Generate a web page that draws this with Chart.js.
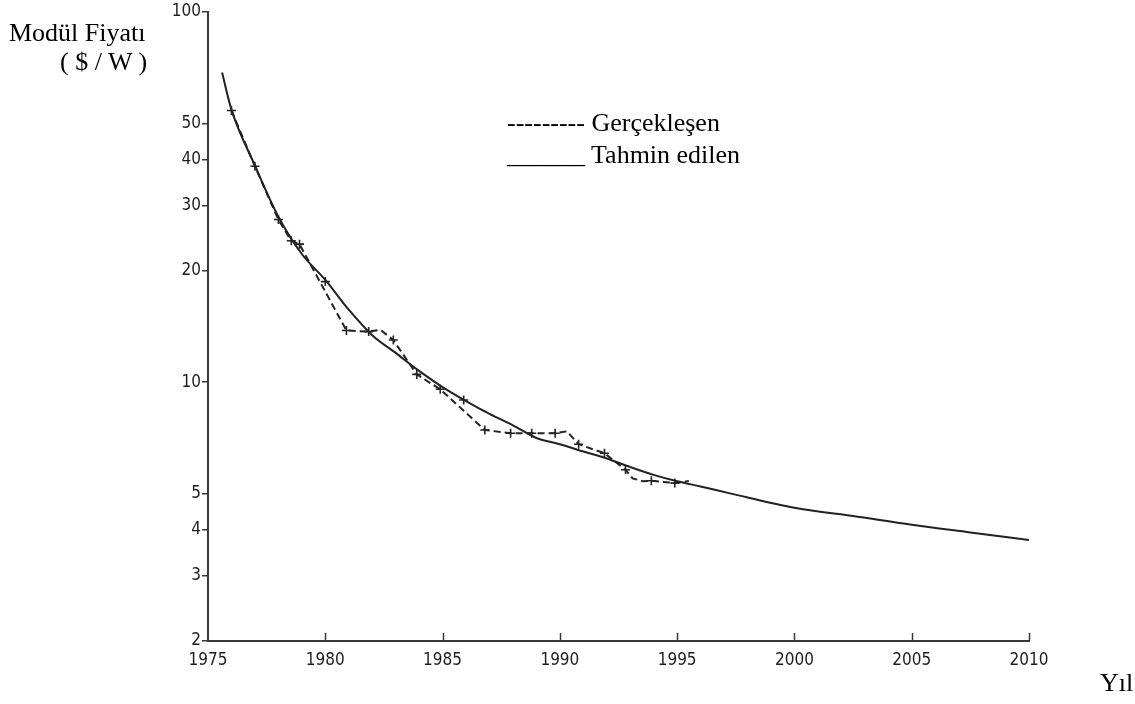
<!DOCTYPE html>
<html>
<head>
<meta charset="utf-8">
<script src="https://cdn.jsdelivr.net/npm/chart.js@4.4.1/dist/chart.umd.min.js"></script>
<style>
  html, body { margin: 0; padding: 0; background: #ffffff; }
  #wrap { position: relative; width: 1135px; height: 704px; overflow: hidden; }
  #c { position: absolute; left: 0; top: 0; }
  .t { position: absolute; font-family: 'Liberation Serif', 'Times New Roman', serif; font-size: 26px;
       line-height: 1; color: #000; white-space: pre; }
</style>
</head>
<body>
<div id="wrap">
  <canvas id="c" width="1135" height="704"></canvas>
  <div class="t" style="left:9px;top:20px">Modül Fiyatı</div>
  <div class="t" style="left:60px;top:49px">( $ / W )</div>
  <div class="t" style="left:507px;top:110px">--------- Gerçekleşen</div>
  <div class="t" style="left:507px;top:142px">______ Tahmin edilen</div>
  <div class="t" style="left:1100px;top:670px">Yıl</div>
</div>
<script>
// Axis ticks
const xTickYears = [1975, 1980, 1985, 1990, 1995, 2000, 2005, 2010];
const yTickValues = [2, 3, 4, 5, 10, 20, 30, 40, 50, 100];

// Realised module prices ($/W), dashed line
const actualYears  = [1976, 1977, 1978, 1978.55, 1978.9, 1980.9, 1981.85, 1982.35, 1982.9,
                      1983.9, 1984.9, 1986.8, 1987.9, 1988.8, 1989.8, 1990.3, 1990.8, 1991.9,
                      1992.8, 1993.1, 1993.55, 1993.9, 1994.9, 1995.5];
const actualPrices = [54.2, 38.3, 27.5, 24.1, 23.6, 13.8, 13.7, 13.85, 13.0,
                      10.5, 9.57, 7.43, 7.28, 7.28, 7.28, 7.37, 6.8, 6.43,
                      5.8, 5.5, 5.4, 5.42, 5.34, 5.41];

// Yearly observations marked with "+"
const markerYears  = [1976, 1977, 1978, 1978.55, 1978.9, 1980, 1980.9, 1981.85, 1982.9, 1983.9,
                      1984.9, 1985.9, 1986.8, 1987.9, 1988.8, 1989.8, 1990.8, 1991.9, 1992.8,
                      1993.9, 1994.9];
const markerPrices = [54.2, 38.3, 27.5, 24.1, 23.6, 18.7, 13.8, 13.7, 13.0, 10.5,
                      9.57, 8.95, 7.43, 7.28, 7.28, 7.28, 6.8, 6.43, 5.8,
                      5.42, 5.34];

// Forecast price curve, solid line
const forecastYears  = [1975.6, 1976, 1977, 1978, 1979, 1980, 1981, 1982, 1983, 1984, 1985, 1986,
                        1987, 1988, 1989, 1990, 1991, 1992, 1993, 1994, 1995, 1996, 1997.25,
                        2000, 2002.5, 2005, 2007.5, 2010];
const forecastPrices = [68.6, 54.5, 38.5, 28.0, 22.2, 18.9, 15.7, 13.4, 12.0, 10.73, 9.7, 8.89,
                        8.21, 7.65, 7.07, 6.8, 6.5, 6.22, 5.9, 5.62, 5.4, 5.23, 5.01,
                        4.58, 4.35, 4.12, 3.93, 3.75];

const toPoints = (xs, ys) => xs.map((x, i) => ({ x: x, y: ys[i] }));

const INK = '#222222';
const AXIS = '#383838';
const TICK_FONT = { family: "'Liberation Sans Narrow', 'DejaVu Sans Condensed', sans-serif", size: 17 };

// Small tick marks on the year axis pointing into the plot
const innerYearTicks = {
  id: 'innerYearTicks',
  afterDraw(chart) {
    const { ctx, chartArea, scales } = chart;
    ctx.save();
    ctx.strokeStyle = AXIS;
    ctx.lineWidth = 1.5;
    xTickYears.slice(1).forEach(v => {
      const px = Math.round(scales.x.getPixelForValue(v)) + 0.5;
      ctx.beginPath();
      ctx.moveTo(px, chartArea.bottom);
      ctx.lineTo(px, chartArea.bottom - 8);
      ctx.stroke();
    });
    ctx.restore();
  }
};

new Chart(document.getElementById('c'), {
  type: 'line',
  data: {
    datasets: [
      {
        label: 'Tahmin edilen',
        data: toPoints(forecastYears, forecastPrices),
        borderColor: INK,
        borderWidth: 2,
        pointRadius: 0,
        cubicInterpolationMode: 'monotone',
        fill: false
      },
      {
        label: 'Gerçekleşen',
        data: toPoints(actualYears, actualPrices),
        borderColor: INK,
        borderWidth: 2,
        borderDash: [7, 4],
        pointRadius: 0,
        tension: 0,
        fill: false
      },
      {
        label: 'Gözlem',
        data: toPoints(markerYears, markerPrices),
        showLine: false,
        pointStyle: 'cross',
        pointRadius: 4.5,
        pointBorderWidth: 1.6,
        pointBorderColor: INK,
        pointBackgroundColor: INK
      }
    ]
  },
  options: {
    responsive: false,
    animation: false,
    devicePixelRatio: 1,
    layout: { padding: { left: 0, right: 106, top: 12, bottom: 0 } },
    plugins: { legend: { display: false }, tooltip: { enabled: false } },
    scales: {
      x: {
        type: 'linear',
        min: 1975,
        max: 2010,
        afterBuildTicks: s => { s.ticks = xTickYears.map(v => ({ value: v })); },
        afterFit: s => { s.height = 63; },
        ticks: {
          callback: v => String(v),
          font: TICK_FONT,
          color: '#1e1e1e',
          padding: 9,
          maxRotation: 0,
          autoSkip: false
        },
        grid: { display: true, drawOnChartArea: false, drawTicks: false },
        border: { display: true, color: AXIS, width: 2 }
      },
      y: {
        type: 'logarithmic',
        min: 2,
        max: 100,
        afterBuildTicks: s => { s.ticks = yTickValues.map(v => ({ value: v })); },
        afterFit: s => { s.width = 208; },
        ticks: {
          callback: v => String(v),
          font: TICK_FONT,
          color: '#1e1e1e',
          padding: 1,
          autoSkip: false
        },
        grid: { display: true, drawOnChartArea: false, drawTicks: true, tickLength: 6, color: AXIS, lineWidth: 1.5 },
        border: { display: true, color: AXIS, width: 2 }
      }
    }
  },
  plugins: [innerYearTicks]
});
</script>
</body>
</html>
